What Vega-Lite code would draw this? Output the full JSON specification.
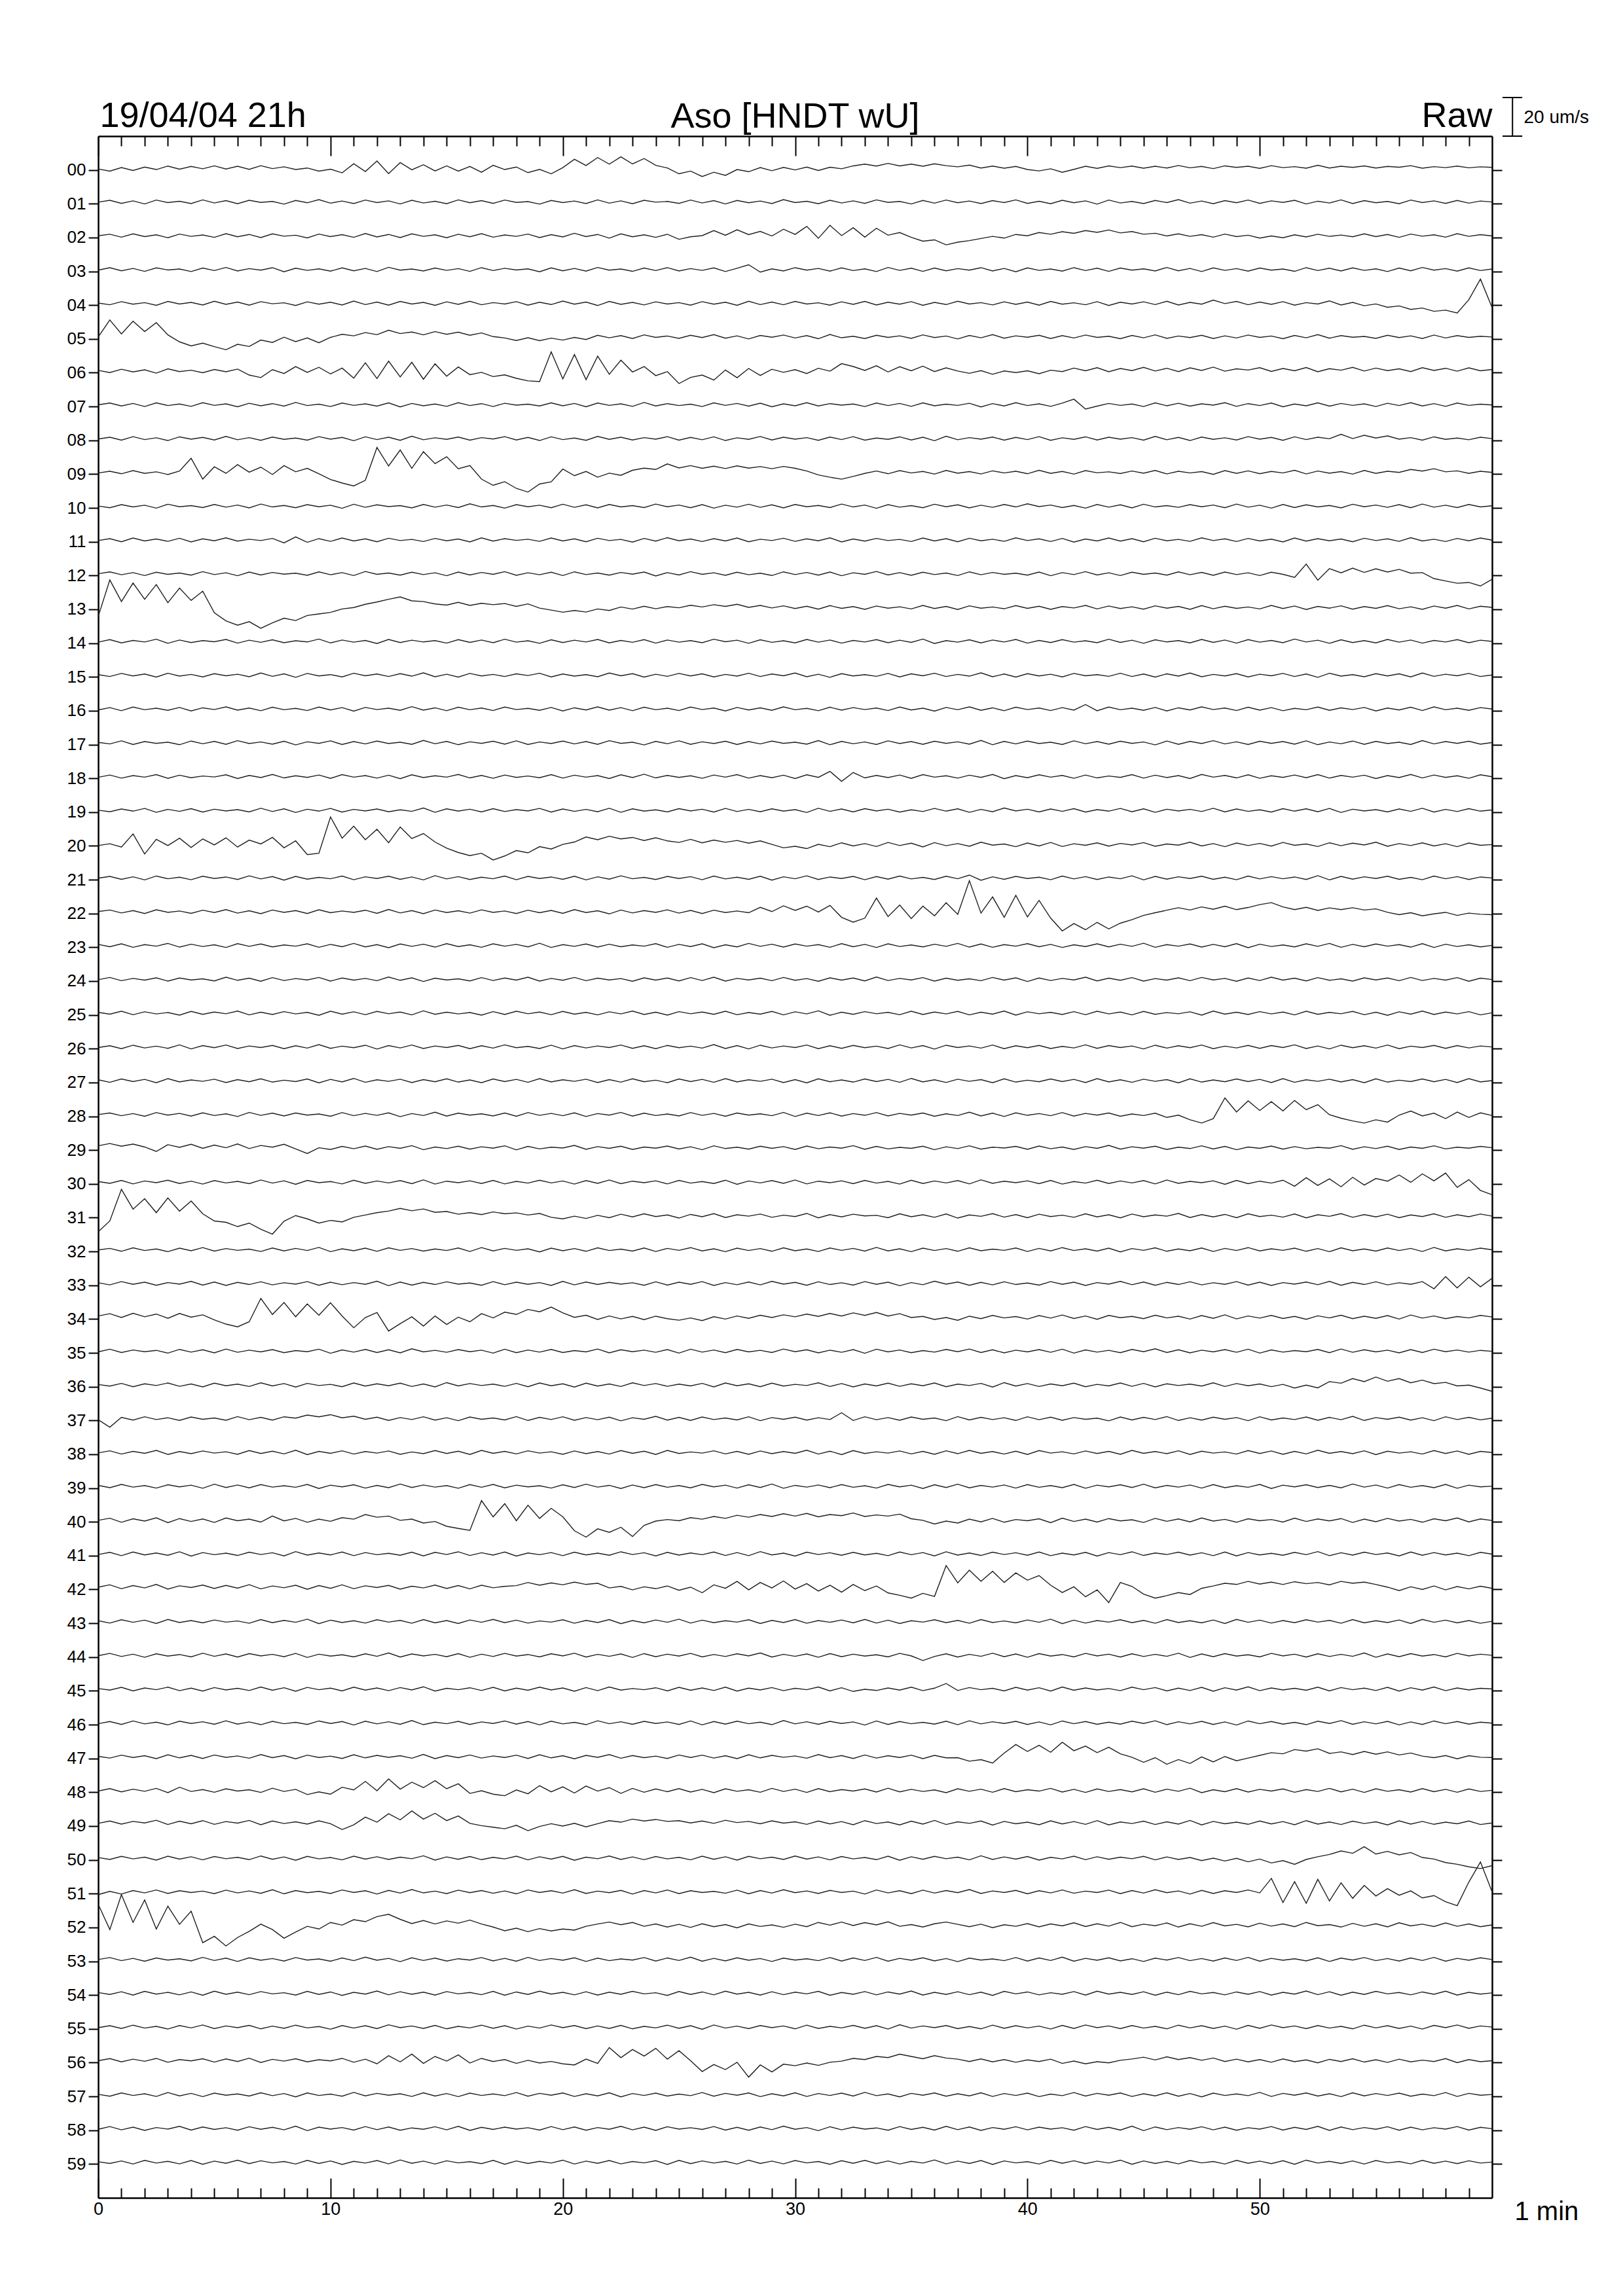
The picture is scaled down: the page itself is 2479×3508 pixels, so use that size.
{
"$schema":"https://vega.github.io/schema/vega-lite/v6.json",
"autosize":{"type":"none"},
"width":2129,"height":3150,
"padding":{"left":150,"top":208,"right":200,"bottom":150},
"background":"white",
"config":{"view":{"stroke":null},"font":"Liberation Sans"},
"title":{"text":"Aso [HNDT wU]","anchor":"middle","frame":"group","fontSize":54,"fontWeight":"normal","font":"Liberation Sans","color":"black","offset":0,"dy":104,"baseline":"alphabetic"},
"datasets":{
"helicorder":[{
"t":[0,0.5,1,1.5,2,2.5,3,3.5,4,4.5,5,5.5,6,6.5,7,7.5,8,8.5,9,9.5,10,10.5,11,11.5,12,12.5,13,13.5,14,14.5,15,15.5,16,16.5,17,17.5,18,18.5,19,19.5,20,20.5,21,21.5,22,22.5,23,23.5,24,24.5,25,25.5,26,26.5,27,27.5,28,28.5,29,29.5,30,30.5,31,31.5,32,32.5,33,33.5,34,34.5,35,35.5,36,36.5,37,37.5,38,38.5,39,39.5,40,40.5,41,41.5,42,42.5,43,43.5,44,44.5,45,45.5,46,46.5,47,47.5,48,48.5,49,49.5,50,50.5,51,51.5,52,52.5,53,53.5,54,54.5,55,55.5,56,56.5,57,57.5,58,58.5,59,59.5,60],
"00":[0.5,-0.6,1.2,-0.3,1.5,0.2,2.0,0.4,1.8,0.6,2.1,0.5,1.9,0.3,2.2,0.7,1.6,0.2,1.0,-0.6,0.4,-1.5,3.2,-0.8,4.6,-1.9,3.8,0.1,2.7,-0.5,2.1,-0.6,1.8,-1.2,2.4,0.2,1.5,-1.4,0.3,-2.0,1.2,5.5,2.3,6.4,3.0,6.8,3.1,5.9,2.4,1.0,-2.0,-0.6,-3.4,-1.2,-2.8,0.2,-0.9,1.2,-0.4,1.3,0.0,1.5,-0.3,1.4,0.6,2.1,3.0,2.0,3.4,2.1,3.0,1.9,3.2,2.2,1.6,2.5,1.0,2.0,0.9,1.8,0.2,-0.5,0.6,-1.2,0.3,1.9,0.8,2.1,1.2,2.0,0.9,1.9,1.0,2.3,1.1,1.8,0.7,2.1,1.3,1.9,0.8,2.2,1.2,1.7,0.9,2.4,1.0,1.9,1.3,2.1,1.0,1.8,1.4,2.2,0.9,1.7,1.2,2.0,1.1,1.6,1.3],
"01":[0.8,1.8,0.2,1.5,-0.1,1.9,0.6,1.3,0.1,2.0,0.4,1.6,0.0,1.8,0.7,1.2,-0.2,1.7,0.5,2.1,0.3,1.4,0.1,1.9,0.6,1.5,-0.1,1.8,0.4,1.3,0.0,2.0,0.5,1.6,0.2,1.9,0.7,1.1,-0.2,1.7,0.6,1.4,0.1,2.0,0.3,1.5,0.0,1.8,0.8,1.2,0.2,1.9,0.4,1.6,-0.1,1.7,0.5,1.4,0.1,2.1,0.6,1.3,0.0,1.8,0.4,1.5,0.2,2.0,0.7,1.2,-0.1,1.7,0.3,1.9,0.5,1.4,0.1,1.6,0.6,2.0,0.2,1.3,0.0,1.8,0.5,1.5,-0.2,1.9,0.4,1.2,0.1,1.7,0.6,2.1,0.3,1.4,0.0,1.6,0.5,1.9,0.2,1.5,0.7,1.8,-0.1,1.3,0.4,2.0,0.1,1.6,0.5,1.2,0.0,1.9,0.6,1.5,0.2,1.7,0.3,1.4,0.9],
"02":[0.9,1.7,0.2,1.9,0.5,1.4,-0.1,1.8,0.6,1.3,0.1,2.0,0.4,1.6,0.0,1.9,0.7,1.2,-0.2,1.8,0.5,1.5,0.1,2.1,0.3,1.6,0.0,1.9,0.6,1.4,-0.1,1.7,0.4,2.0,0.2,1.3,0.6,1.8,0.0,1.5,0.3,2.2,0.5,1.6,-0.3,1.9,0.4,1.4,0.1,1.7,-0.9,0.4,1.0,3.6,1.2,4.0,1.5,3.2,0.8,4.3,1.6,5.8,-0.4,6.3,1.0,5.1,0.2,4.8,1.2,2.6,0.1,-1.9,-1.2,-3.8,-2.4,-1.6,-0.5,0.6,-0.3,1.6,0.9,2.6,1.7,3.0,2.2,3.6,2.7,3.9,2.4,3.1,1.7,2.2,0.8,1.9,0.6,1.5,0.2,1.8,0.5,1.2,-0.3,0.8,-0.1,1.4,0.3,1.7,0.6,1.3,0.4,1.9,0.5,1.6,0.1,1.8,0.7,1.4,0.2,2.0,0.6,1.5,0.8],
"03":[0.6,1.9,0.3,1.5,0.0,1.8,0.7,1.2,-0.1,1.7,0.4,2.0,0.2,1.4,0.6,1.9,-0.2,1.6,0.5,1.3,0.1,1.8,0.3,1.5,-0.1,2.1,0.6,1.2,0.2,1.7,0.5,1.4,0.0,1.9,0.4,1.6,0.7,1.3,-0.2,1.8,0.3,1.5,0.1,2.0,0.6,1.2,0.0,1.7,0.4,1.9,0.2,1.4,0.5,1.8,-0.1,1.6,3.4,-0.4,1.3,0.2,1.9,0.6,1.5,0.1,1.8,0.4,1.3,-0.1,2.0,0.5,1.6,0.0,1.7,0.3,1.4,0.6,1.9,0.2,1.5,-0.2,1.8,0.5,1.2,0.1,1.9,0.4,1.6,0.0,1.7,0.6,1.3,0.2,2.0,0.3,1.5,-0.1,1.8,0.5,1.4,0.1,1.7,0.6,1.2,0.0,1.9,0.4,1.6,0.2,1.8,0.5,1.3,-0.1,1.7,0.3,2.0,0.6,1.4,0.1,1.8,0.4,1.2],
"04":[1.1,0.2,1.8,0.5,1.3,-0.1,1.9,0.6,1.4,0.1,2.0,0.4,1.6,0.0,1.8,0.7,1.2,-0.2,1.7,0.5,1.5,0.1,2.1,0.3,1.6,0.0,1.9,0.6,1.4,-0.1,1.7,0.4,2.0,0.2,1.3,0.6,1.8,0.0,1.5,0.3,2.1,0.5,1.6,-0.2,1.9,0.4,1.4,0.1,1.7,0.6,1.3,0.0,1.8,0.5,1.5,-0.1,2.0,0.3,1.6,0.2,1.9,0.6,1.2,0.0,1.7,0.4,1.9,0.1,1.5,0.5,1.8,-0.1,1.4,0.3,2.0,0.6,1.3,0.1,1.7,0.4,1.6,0.0,1.9,0.5,1.2,0.2,1.8,-0.2,1.5,0.6,1.7,0.3,2.0,0.1,1.4,0.5,2.6,0.8,1.9,0.2,1.6,0.4,1.8,0.0,1.3,0.6,2.2,0.1,1.4,-0.3,0.6,-1.1,-0.4,-2.2,-1.5,-3.2,-2.6,-4.1,2.8,13.5,-1.2],
"05":[1.0,9.8,2.6,9.2,3.8,8.4,2.1,-1.5,-3.6,-2.2,-4.0,-5.6,-2.8,-3.9,-0.6,-1.8,0.9,-1.4,0.5,-2.0,0.8,2.4,1.6,3.3,2.2,4.5,2.8,3.6,2.1,3.8,2.4,3.5,1.9,3.1,1.2,0.5,-0.8,0.6,-0.9,0.4,-0.6,0.8,-0.3,1.9,0.6,1.7,0.2,2.1,0.8,1.5,0.3,1.9,0.7,2.2,0.4,1.6,0.0,1.8,0.9,2.0,0.5,1.7,0.1,2.3,0.6,1.4,0.2,1.9,0.8,1.6,0.3,2.1,0.7,1.5,0.0,1.8,0.6,2.2,0.4,1.6,0.9,1.9,0.2,1.7,0.5,2.0,0.8,1.4,0.1,1.8,0.6,2.1,0.3,1.5,0.7,1.9,0.2,1.6,0.5,2.0,0.8,1.5,0.1,1.8,0.6,2.2,0.4,1.7,0.9,1.3,0.3,1.9,0.7,1.6,0.2,2.0,0.5,1.7,0.8,1.4,1.0],
"06":[1.2,0.1,1.8,0.4,1.5,-0.2,2.0,0.6,1.3,0.0,1.7,0.5,1.9,-1.2,-2.5,1.6,-0.4,3.2,0.2,2.8,-0.6,2.4,-2.8,5.1,-3.0,6.0,-2.2,5.4,-3.4,4.6,-1.8,3.0,-1.0,0.2,-2.0,-1.1,-2.9,-4.2,-4.6,10.8,-3.2,9.4,-3.6,8.6,-0.8,6.5,0.4,3.2,-1.5,0.6,-5.6,-2.4,-1.2,-3.8,1.4,-2.6,2.2,-1.4,1.8,0.2,1.6,-0.4,2.3,0.8,4.7,3.2,1.2,3.6,0.4,3.1,1.0,3.4,0.6,2.5,0.9,-0.3,1.1,-0.8,0.9,0.1,1.0,-0.5,1.3,0.6,2.4,1.0,2.6,0.5,2.2,1.1,2.8,0.9,2.3,0.6,2.5,1.2,2.9,0.8,2.0,1.4,2.6,0.7,2.2,1.0,2.7,0.5,2.1,1.3,2.8,0.9,2.4,1.1,2.0,0.6,2.6,1.2,2.3,0.8,2.5,1.0,1.7],
"07":[0.9,1.8,0.3,1.6,0.0,1.9,0.5,1.3,0.1,2.0,0.6,1.4,-0.1,1.7,0.4,1.5,0.2,2.1,0.5,1.2,0.0,1.8,0.6,1.4,0.2,1.9,-0.2,1.6,0.4,1.3,0.1,2.0,0.5,1.5,0.0,1.7,0.7,1.2,0.3,1.9,0.4,1.6,-0.1,1.8,0.6,1.4,0.1,2.1,0.3,1.5,0.5,1.2,0.0,1.9,0.6,1.6,0.2,1.7,-0.1,1.4,0.4,2.0,0.3,1.5,0.7,1.3,0.0,1.8,0.5,1.6,0.1,1.9,0.4,1.2,0.6,1.7,-0.2,1.5,0.3,2.0,0.5,1.4,0.1,1.8,3.8,-1.3,0.2,1.6,0.6,1.3,0.0,1.9,0.4,1.7,0.2,1.4,0.7,2.0,0.1,1.5,0.5,1.8,-0.1,1.3,0.4,1.9,0.2,1.6,0.6,1.4,0.0,1.7,0.5,2.0,0.3,1.5,0.1,1.8,0.6,1.2,0.8],
"08":[0.7,1.6,0.1,1.9,0.4,1.3,-0.1,1.8,0.6,1.5,0.2,2.0,0.3,1.4,0.0,1.7,0.5,1.2,0.1,1.9,0.6,1.5,-0.2,1.8,0.4,1.6,0.0,2.1,0.3,1.3,0.5,1.7,0.1,1.4,0.7,1.9,0.2,1.5,-0.1,1.8,0.4,1.2,0.0,2.0,0.5,1.6,0.2,1.4,0.6,1.9,0.1,1.5,0.3,1.8,-0.1,1.3,0.5,2.0,0.2,1.6,0.6,1.4,0.0,1.7,0.4,1.9,0.1,1.2,0.5,1.8,0.2,1.6,-0.2,2.1,0.3,1.4,0.6,1.7,0.1,1.5,0.4,1.9,0.0,1.3,0.5,1.8,0.2,1.6,0.6,1.4,0.1,2.0,0.3,1.5,-0.1,1.7,0.5,1.3,0.2,1.9,0.6,1.5,0.0,1.8,0.4,1.6,0.8,3.1,0.9,2.6,1.2,2.3,0.6,1.4,0.1,1.8,0.5,1.2,0.3,1.6,0.9],
"09":[0.6,1.5,0.2,1.8,0.4,1.2,-0.2,1.6,8.2,-2.6,3.8,0.4,4.9,1.0,3.6,-0.2,4.4,1.2,3.0,0.2,-2.8,-4.6,-6.1,-3.2,13.8,4.2,12.5,3.0,11.6,5.4,9.0,2.8,4.4,-2.6,-5.8,-3.9,-7.4,-9.3,-5.1,-4.0,2.6,-0.8,1.4,-1.6,0.5,-0.6,2.0,3.1,2.4,5.3,3.2,4.4,3.0,4.1,2.9,4.3,3.1,3.9,2.8,4.0,3.0,1.6,-0.4,-1.6,-2.6,-1.2,0.4,1.6,0.2,1.8,0.6,1.4,0.0,1.9,0.5,1.3,0.1,1.7,0.6,1.5,0.2,2.0,0.4,1.4,0.0,1.8,0.7,1.2,0.3,1.6,0.5,1.9,0.1,1.5,0.6,1.3,-0.1,1.8,0.4,1.7,0.2,1.4,0.6,2.0,0.1,1.6,0.5,1.3,0.0,1.9,0.4,1.5,0.9,2.4,1.6,2.8,1.2,1.7,0.4,1.5,0.9],
"10":[1.0,0.1,1.7,0.5,1.4,-0.1,1.9,0.6,1.2,0.2,1.8,0.4,1.5,0.0,2.0,0.5,1.3,0.1,1.7,0.6,1.4,-0.2,1.9,0.3,1.6,0.7,1.2,0.0,1.8,0.4,1.5,0.2,2.1,0.5,1.3,-0.1,1.7,0.6,1.4,0.1,1.9,0.3,1.6,0.0,1.8,0.5,1.2,0.2,2.0,0.6,1.5,0.1,1.7,-0.1,1.4,0.4,1.9,0.3,1.6,0.0,1.8,0.6,1.3,0.2,2.0,0.5,1.5,-0.2,1.7,0.4,1.2,0.1,1.9,0.6,1.6,0.0,1.4,0.3,1.8,0.5,2.1,0.7,1.5,0.2,1.3,-0.1,1.8,0.4,1.6,0.0,1.9,0.5,1.2,0.3,1.7,0.6,1.5,0.1,2.0,0.4,1.4,-0.1,1.8,0.2,1.6,0.5,1.3,0.0,1.9,0.6,1.5,0.3,1.7,0.1,2.0,0.4,1.4,0.2,1.8,0.5,1.1],
"11":[0.6,1.6,0.0,1.9,0.4,1.4,0.2,1.8,-0.1,1.5,0.5,2.0,0.3,1.3,0.6,1.7,-0.6,2.5,-0.3,1.6,0.2,1.9,0.4,1.5,0.0,1.8,0.6,1.2,0.1,1.7,0.5,1.4,-0.1,2.0,0.3,1.6,0.7,1.3,0.2,1.9,0.4,1.5,0.0,1.8,0.6,1.2,-0.2,1.7,0.3,2.1,0.5,1.4,0.1,1.6,0.4,1.9,0.0,1.3,0.6,1.8,0.2,1.5,0.5,2.0,-0.1,1.4,0.3,1.7,0.6,1.2,0.1,1.9,0.4,1.6,0.0,1.8,0.5,1.3,0.2,2.0,0.6,1.5,0.1,1.7,-0.2,1.4,0.4,1.9,0.3,1.6,0.0,1.8,0.5,1.2,0.2,2.0,0.6,1.5,0.1,1.7,0.4,1.3,-0.1,1.9,0.3,1.6,0.5,1.4,0.0,1.8,0.6,1.5,0.2,2.1,0.4,1.3,0.1,1.7,0.5,1.9,0.8],
"12":[0.9,1.9,0.4,1.5,0.0,1.7,0.6,1.3,0.2,2.0,0.5,1.4,-0.1,1.8,0.3,1.6,0.7,1.2,0.1,1.9,0.4,1.5,0.0,2.1,0.6,1.3,0.2,1.7,0.5,1.4,-0.1,1.8,0.3,1.6,0.6,2.0,0.1,1.4,0.4,1.7,0.0,1.9,0.5,1.3,0.2,1.6,0.7,1.8,-0.2,1.5,0.3,2.0,0.6,1.4,0.1,1.7,0.4,1.2,0.0,1.9,0.5,1.6,0.2,1.8,-0.1,1.4,0.6,2.1,0.3,1.5,0.1,1.7,0.5,1.3,0.0,1.9,0.4,1.6,0.6,1.2,0.2,1.8,-0.1,1.5,0.5,2.0,0.3,1.4,0.0,1.7,0.6,1.3,0.2,1.9,0.4,1.6,0.1,1.8,0.5,1.4,0.0,1.7,0.6,-1.0,5.9,-2.4,3.6,1.4,3.8,1.6,3.5,1.8,3.2,1.2,1.5,-1.6,-2.8,-4.0,-3.6,-5.4,-2.0],
"13":[-3.7,15.2,4.0,13.6,5.2,12.8,3.4,11.0,4.6,9.4,-1.8,-6.0,-8.2,-6.4,-9.8,-7.0,-4.6,-5.8,-3.2,-2.4,-1.6,0.2,0.9,2.6,3.8,5.2,6.4,4.4,4.0,2.8,2.2,3.6,2.0,3.1,2.4,3.0,1.5,2.8,0.6,-0.4,-1.5,-0.6,-1.4,0.2,-0.6,1.2,0.1,1.6,0.3,1.4,0.8,2.1,1.2,2.4,1.5,2.6,1.0,2.0,0.7,1.8,0.4,1.6,0.1,1.9,0.5,1.4,0.0,1.7,0.6,1.3,0.2,2.0,0.4,1.5,-0.1,1.8,0.6,1.2,0.3,1.9,0.5,1.6,0.0,1.4,0.7,2.0,0.2,1.7,0.4,1.3,0.1,1.8,0.6,1.5,0.0,1.9,0.3,1.6,0.5,1.2,0.2,2.0,0.4,1.7,-0.1,1.5,0.6,1.8,0.1,1.4,0.5,1.9,0.3,1.3,0.0,1.7,0.6,2.0,0.2,1.6,1.0],
"14":[0.5,1.8,0.1,1.4,0.6,2.0,-0.1,1.6,0.3,1.3,0.7,1.9,0.0,1.5,0.4,1.7,0.2,1.2,0.6,2.1,0.1,1.6,0.5,1.4,-0.2,1.9,0.3,1.5,0.6,1.3,0.0,1.8,0.4,1.6,0.2,2.0,0.5,1.2,-0.1,1.7,0.3,1.5,0.6,1.9,0.1,1.4,0.4,1.8,0.0,1.6,0.5,1.3,0.2,2.0,0.7,1.5,-0.1,1.7,0.4,1.2,0.1,1.9,0.5,1.6,0.0,1.4,0.6,1.8,0.2,1.5,0.4,2.1,-0.2,1.3,0.5,1.7,0.1,1.6,0.6,1.9,0.0,1.4,0.3,1.8,0.5,1.2,0.2,2.0,0.4,1.5,-0.1,1.7,0.6,1.3,0.1,1.9,0.4,1.6,0.0,1.8,0.5,1.4,0.2,2.1,0.6,1.5,-0.1,1.7,0.3,1.3,0.1,1.9,0.5,1.6,0.0,1.4,0.6,1.8,0.2,1.5,0.9],
"15":[1.2,0.2,1.8,0.5,1.5,-0.1,1.9,0.4,1.3,0.0,1.7,0.6,1.4,0.1,2.0,0.3,1.6,-0.2,1.8,0.5,1.2,0.0,1.9,0.6,1.5,0.2,1.7,0.4,2.1,0.1,1.4,-0.1,1.8,0.5,1.3,0.2,1.6,0.7,1.9,0.0,1.5,0.4,1.2,0.1,2.0,0.6,1.7,-0.1,1.4,0.3,1.8,0.5,1.6,0.0,1.3,0.4,1.9,0.2,1.5,0.6,2.0,0.1,1.4,-0.2,1.7,0.5,1.2,0.3,1.8,0.0,1.6,0.6,1.9,0.2,1.3,0.4,2.1,0.1,1.5,-0.1,1.7,0.5,1.4,0.0,1.8,0.6,1.2,0.3,1.9,0.2,1.5,-0.1,1.6,0.4,2.0,0.1,1.3,0.5,1.7,0.0,1.4,0.6,1.8,0.2,1.5,-0.2,1.9,0.4,1.2,0.1,1.7,0.5,1.6,0.0,2.0,0.3,1.4,0.6,1.8,0.2,1.0],
"16":[0.4,1.6,0.0,1.9,0.5,1.3,0.2,1.7,-0.1,1.5,0.6,2.0,0.3,1.4,0.0,1.8,0.5,1.2,0.1,1.9,0.4,1.6,-0.2,1.7,0.6,1.3,0.2,2.1,0.3,1.5,0.0,1.8,0.5,1.4,0.1,1.9,0.6,1.2,0.2,1.7,-0.1,1.5,0.4,2.0,0.3,1.6,0.0,1.8,0.5,1.3,0.1,1.9,0.6,1.4,-0.1,1.7,0.4,1.5,0.2,2.0,0.5,1.2,0.0,1.8,0.3,1.6,0.6,1.4,0.1,1.9,0.4,1.3,-0.2,1.7,0.5,2.0,0.2,1.5,0.0,1.8,0.6,1.4,0.1,1.6,0.3,3.2,0.0,1.9,0.5,1.3,0.2,1.7,-0.1,1.5,0.4,2.0,0.6,1.4,0.1,1.8,0.3,1.6,0.0,1.2,0.5,1.9,0.2,1.5,0.6,1.7,-0.1,1.4,0.4,1.8,0.1,2.0,0.5,1.3,0.2,1.6,0.9],
"17":[1.1,0.3,1.9,0.0,1.5,0.6,1.2,-0.1,1.8,0.4,1.6,0.1,2.0,0.5,1.3,0.2,1.7,-0.2,1.4,0.6,1.9,0.0,1.5,0.3,1.8,0.5,1.2,0.1,2.1,0.4,1.6,-0.1,1.4,0.6,1.7,0.2,1.9,0.0,1.3,0.5,1.8,0.3,1.5,0.1,2.0,0.6,1.2,-0.2,1.6,0.4,1.9,0.1,1.4,0.5,1.7,0.0,1.5,0.3,1.8,0.6,1.2,0.2,2.0,-0.1,1.6,0.4,1.3,0.0,1.9,0.5,1.5,0.1,1.7,0.6,1.4,0.2,2.1,-0.1,1.6,0.3,1.8,0.5,1.2,0.0,1.9,0.4,1.5,0.2,1.7,0.6,1.3,-0.2,1.8,0.1,1.6,0.5,2.0,0.3,1.4,0.0,1.7,0.6,1.5,0.2,1.9,-0.1,1.3,0.4,1.8,0.1,1.6,0.5,1.2,0.0,2.0,0.3,1.5,0.6,1.7,0.2,1.0],
"18":[0.5,1.7,0.1,1.4,0.6,1.9,0.0,1.6,0.3,1.2,0.7,1.8,-0.1,1.5,0.4,2.0,0.2,1.3,0.5,1.7,0.0,1.9,0.6,1.4,0.1,1.6,-0.2,1.8,0.4,1.3,0.6,2.0,0.2,1.5,0.0,1.7,0.5,1.2,0.3,1.9,0.1,1.6,0.6,1.4,-0.1,1.8,0.4,2.1,0.2,1.5,0.5,1.3,0.0,1.7,0.6,1.9,0.1,1.4,0.3,1.6,-0.1,1.8,0.5,3.6,-1.6,3.0,0.2,1.5,0.4,1.7,0.0,1.9,0.6,1.3,0.1,1.6,0.5,2.0,-0.2,1.4,0.3,1.8,0.6,1.5,0.0,1.7,0.2,1.2,0.5,1.9,0.1,1.6,0.4,1.4,-0.1,2.0,0.6,1.5,0.2,1.8,0.0,1.3,0.5,1.7,0.3,1.9,0.1,1.5,0.6,1.6,-0.1,1.4,0.4,2.0,0.2,1.7,0.5,1.3,0.0,1.8,0.8],
"19":[1.0,0.2,1.6,0.5,1.9,-0.1,1.4,0.4,1.8,0.0,1.5,0.6,1.3,0.1,2.0,0.3,1.7,-0.2,1.5,0.5,1.9,0.0,1.4,0.6,1.6,0.2,1.2,0.4,2.1,-0.1,1.7,0.5,1.5,0.1,1.8,0.3,1.3,0.6,1.9,0.0,1.6,0.4,1.4,0.2,2.0,-0.1,1.7,0.5,1.2,0.1,1.8,0.6,1.5,0.0,1.9,0.3,1.4,0.2,1.7,0.5,1.3,-0.2,2.0,0.4,1.6,0.1,1.8,0.6,1.5,0.0,1.2,0.3,1.9,0.5,1.7,-0.1,1.4,0.2,2.1,0.6,1.5,0.1,1.6,0.4,1.8,0.0,1.3,0.5,1.9,0.2,1.7,-0.1,1.5,0.6,1.4,0.3,2.0,0.1,1.6,0.4,1.2,0.0,1.8,0.5,1.7,0.2,1.9,-0.2,1.5,0.6,1.3,0.1,1.6,0.4,2.0,0.0,1.4,0.3,1.8,0.5,1.1],
"20":[0.2,1.1,-0.6,6.2,-4.2,3.4,0.2,4.0,-0.8,3.6,0.5,4.2,-0.6,3.0,1.0,4.4,-1.0,2.6,-4.5,-3.8,15.0,4.0,10.2,3.2,8.6,1.6,9.8,3.8,6.4,2.0,-1.2,-3.4,-5.0,-3.8,-7.3,-5.2,-2.4,-3.6,-0.4,-1.6,0.8,2.0,4.6,3.2,5.0,3.6,4.4,2.8,4.2,2.6,1.8,3.4,1.6,3.0,1.9,2.8,1.4,2.6,0.8,-1.0,-0.2,-1.4,0.8,-0.4,1.6,0.0,1.2,-0.3,1.8,0.2,1.4,-0.5,1.7,0.1,1.2,-0.2,1.9,0.4,1.0,-0.4,1.5,0.0,1.8,-0.3,1.1,0.3,1.6,-0.1,1.3,0.5,1.7,-0.2,1.0,0.4,1.9,0.0,1.2,-0.4,1.5,0.2,1.3,-0.1,1.8,0.3,1.0,-0.3,1.6,0.1,1.4,0.5,1.9,-0.2,1.2,0.2,1.6,0.0,1.1,-0.4,1.5,0.3,0.7],
"21":[0.8,1.7,0.2,1.5,-0.1,1.9,0.5,1.3,0.0,1.8,0.6,1.4,0.1,2.0,0.4,1.6,-0.2,1.7,0.3,1.2,0.5,1.9,0.0,1.5,0.6,1.8,0.2,1.4,-0.1,2.1,0.4,1.6,0.1,1.3,0.5,1.9,0.0,1.7,0.6,1.4,0.2,1.8,-0.1,1.5,0.3,2.0,0.5,1.2,0.1,1.7,0.6,1.6,0.0,1.9,0.4,1.3,0.2,1.8,-0.2,1.5,0.5,2.0,0.1,1.4,0.6,1.7,0.0,1.6,0.3,1.9,0.4,1.2,0.1,1.8,0.5,2.4,-0.3,1.5,0.2,1.7,0.6,1.3,0.0,1.9,0.4,1.6,0.1,1.4,0.5,2.0,-0.1,1.7,0.3,1.5,0.6,1.8,0.2,1.3,0.0,1.9,0.4,1.6,0.5,1.4,0.1,2.1,-0.1,1.7,0.3,1.5,0.6,1.8,0.2,1.2,0.0,1.9,0.5,1.6,0.1,1.4,0.9],
"22":[1.0,1.8,0.3,1.5,0.0,1.9,0.6,1.3,0.1,1.7,0.5,2.0,0.2,1.4,-0.1,1.8,0.6,1.5,0.0,1.9,0.4,1.3,0.6,1.7,0.1,2.1,0.3,1.5,-0.1,1.8,0.5,1.4,0.2,1.9,0.6,1.3,0.0,1.7,0.4,1.6,0.1,2.0,0.5,1.4,-0.2,1.8,0.3,1.5,0.6,1.9,0.2,1.6,0.0,1.7,0.5,1.3,0.4,3.2,1.0,4.0,1.6,3.8,0.8,4.2,-2.0,-4.5,-2.4,8.0,-1.6,4.4,-2.6,3.8,-1.2,5.6,-0.4,17.0,0.2,8.6,-2.0,9.4,-1.8,6.8,-2.4,-9.0,-5.2,-8.4,-4.6,-8.0,-5.0,-3.2,-1.0,0.4,1.7,3.0,1.8,3.4,2.2,3.8,2.0,3.1,4.6,5.6,3.4,2.0,3.2,1.6,2.9,2.0,3.0,1.8,2.4,0.6,-0.6,0.4,-1.2,-0.2,0.6,-1.0,0.2,-0.4,-0.6],
"23":[1.5,0.3,1.8,0.0,1.4,0.6,2.0,0.1,1.6,0.4,1.3,-0.1,1.9,0.5,1.7,0.2,1.2,0.6,1.8,0.0,1.5,0.3,2.0,0.2,1.4,-0.2,1.7,0.5,1.6,0.1,1.9,0.4,1.3,0.0,1.8,0.6,1.5,0.2,2.1,-0.1,1.4,0.5,1.7,0.1,1.6,0.3,1.2,0.6,1.9,0.0,1.5,0.4,1.8,-0.2,1.3,0.2,2.0,0.5,1.6,0.1,1.7,0.6,1.4,0.0,1.9,0.3,1.5,-0.1,1.8,0.4,1.2,0.2,1.6,0.5,2.0,0.1,1.7,0.0,1.4,0.6,1.9,0.3,1.5,-0.1,1.3,0.4,1.8,0.2,1.6,0.5,2.1,0.0,1.4,0.6,1.7,0.1,1.5,0.3,1.9,-0.2,1.6,0.4,1.2,0.2,1.8,0.5,2.0,0.0,1.5,0.3,1.7,0.6,1.4,0.1,1.9,-0.1,1.6,0.4,1.3,0.2,1.0],
"24":[0.7,1.9,0.2,1.4,0.5,1.7,0.0,1.6,0.6,1.2,0.1,2.0,0.4,1.5,-0.1,1.8,0.3,1.3,0.6,1.9,0.0,1.6,0.5,1.4,0.2,2.1,0.4,1.7,-0.2,1.5,0.6,1.2,0.1,1.8,0.3,1.6,0.5,2.0,0.0,1.4,0.4,1.9,0.2,1.5,0.6,1.3,-0.1,1.7,0.5,1.6,0.1,1.8,0.3,2.0,0.0,1.4,0.6,1.5,0.2,1.9,0.4,1.3,-0.1,1.7,0.5,1.6,0.1,2.1,0.3,1.4,0.6,1.8,0.0,1.5,0.4,1.2,0.2,1.9,0.5,1.7,-0.2,1.6,0.3,1.4,0.6,2.0,0.1,1.5,0.4,1.8,0.0,1.3,0.5,1.7,0.2,1.9,0.6,1.4,-0.1,1.6,0.3,2.0,0.5,1.5,0.1,1.8,0.4,1.2,0.0,1.7,0.6,1.6,0.2,1.9,0.3,1.4,0.5,1.8,-0.1,1.5,0.8],
"25":[1.3,0.4,1.9,0.1,1.6,0.5,1.2,-0.1,1.8,0.3,1.5,0.6,2.0,0.0,1.4,0.2,1.7,0.5,1.3,-0.2,1.9,0.4,1.6,0.1,1.8,0.6,1.5,0.0,2.1,0.3,1.4,0.5,1.2,-0.1,1.7,0.2,1.9,0.6,1.5,0.1,1.8,0.4,1.3,0.0,1.6,0.5,2.0,0.2,1.4,-0.1,1.7,0.6,1.5,0.3,1.9,0.1,1.2,0.4,1.8,0.0,1.6,0.5,2.1,-0.2,1.4,0.3,1.7,0.6,1.3,0.1,1.9,0.2,1.5,0.5,1.8,0.0,1.4,0.4,2.0,-0.1,1.6,0.6,1.3,0.2,1.7,0.1,1.9,0.5,1.5,0.0,1.8,0.3,1.2,0.6,1.6,-0.1,2.0,0.4,1.4,0.2,1.7,0.5,1.5,0.0,1.9,0.3,1.3,0.6,1.8,0.1,1.4,-0.2,1.6,0.4,2.0,0.2,1.5,0.5,1.7,0.0,1.1],
"26":[0.6,1.5,0.0,1.8,0.4,1.3,0.2,2.0,-0.1,1.6,0.5,1.9,0.1,1.4,0.6,1.7,0.0,1.5,0.3,2.1,0.2,1.3,0.5,1.8,-0.2,1.6,0.4,1.9,0.1,1.4,0.6,1.7,0.0,1.5,0.3,2.0,0.5,1.2,0.1,1.8,-0.1,1.6,0.4,1.4,0.6,1.9,0.2,1.5,0.0,1.7,0.5,1.3,0.3,2.1,0.1,1.6,-0.1,1.8,0.4,1.4,0.6,1.9,0.0,1.5,0.2,1.7,0.5,1.3,0.1,2.0,0.4,1.6,-0.2,1.8,0.6,1.4,0.3,1.9,0.0,1.5,0.5,1.7,0.1,1.2,0.4,2.0,0.2,1.6,0.6,1.4,-0.1,1.8,0.3,1.5,0.5,1.9,0.0,1.3,0.4,1.7,0.2,1.6,0.6,2.0,0.1,1.4,-0.1,1.8,0.5,1.5,0.3,1.9,0.0,1.3,0.6,1.7,0.2,1.6,0.4,1.4,0.9],
"27":[1.4,0.1,1.8,0.5,1.6,-0.1,2.0,0.3,1.3,0.6,1.7,0.0,1.5,0.4,1.9,0.2,1.2,0.5,1.8,-0.2,1.6,0.3,2.1,0.1,1.4,0.6,1.7,0.0,1.5,0.4,1.9,0.2,1.3,-0.1,1.8,0.5,1.6,0.1,2.0,0.3,1.4,0.6,1.7,0.0,1.5,0.2,1.9,0.4,1.2,-0.1,1.8,0.5,1.6,0.1,2.0,0.3,1.4,0.6,1.7,0.0,1.5,-0.2,1.9,0.4,1.3,0.2,1.8,0.5,1.6,0.1,2.1,0.3,1.4,0.0,1.7,0.6,1.5,-0.1,1.9,0.2,1.2,0.4,1.8,0.5,1.6,0.0,2.0,0.3,1.4,0.1,1.7,0.6,1.5,-0.2,1.9,0.2,1.3,0.4,1.8,0.5,1.6,0.0,2.0,0.1,1.4,0.6,1.7,0.3,1.5,-0.1,1.9,0.2,1.2,0.5,1.8,0.4,1.6,0.0,2.0,0.3,1.0],
"28":[0.9,1.7,0.3,1.4,0.0,1.9,0.6,1.5,0.1,1.8,0.4,1.3,-0.1,2.0,0.5,1.6,0.2,1.7,0.6,1.2,0.0,1.9,0.3,1.5,0.5,1.8,-0.2,1.4,0.4,2.1,0.1,1.6,0.6,1.3,0.2,1.7,0.0,1.9,0.5,1.5,0.3,1.8,-0.1,1.4,0.6,2.0,0.1,1.6,0.4,1.2,0.2,1.9,0.5,1.5,0.0,1.7,0.6,1.3,0.3,2.0,-0.1,1.6,0.4,1.8,0.1,1.4,0.5,1.9,0.2,1.5,0.6,1.7,0.0,1.3,0.4,2.1,0.2,1.6,-0.1,1.8,0.5,1.4,0.3,1.9,0.1,1.5,0.6,1.7,0.0,1.2,0.4,1.6,-0.6,0.6,-1.8,-3.5,-1.2,9.5,2.2,8.0,3.0,7.6,2.8,8.2,3.4,6.0,0.8,-1.0,-2.4,-3.5,-1.8,-3.0,0.6,2.7,0.2,1.6,-1.2,2.2,-0.6,1.8,0.4],
"29":[2.2,3.4,2.0,3.1,1.6,-0.7,2.8,1.4,3.0,0.9,2.6,1.2,3.2,0.8,2.4,1.5,3.0,0.6,-1.8,1.2,0.3,1.9,0.7,2.1,0.4,1.8,0.9,2.3,0.2,1.6,0.8,2.0,0.5,1.7,1.0,2.2,0.1,1.9,0.6,1.5,1.1,2.4,0.4,1.8,0.9,2.0,0.3,1.6,1.0,2.1,0.6,1.7,0.2,2.2,0.8,1.5,0.5,2.0,0.9,1.8,0.3,2.1,0.7,1.6,1.0,2.3,0.4,1.9,0.6,1.4,0.9,2.0,0.2,1.7,0.8,2.2,0.5,1.5,1.1,1.9,0.4,2.1,0.7,1.6,0.3,1.8,0.9,2.4,0.5,1.7,1.0,2.0,0.3,1.5,0.8,2.2,0.6,1.9,0.2,1.6,0.9,2.1,0.5,1.8,0.7,1.4,1.0,2.3,0.4,1.7,0.8,2.0,0.3,1.6,0.9,2.2,0.6,1.5,1.0,1.9,1.2],
"30":[1.2,0.3,1.8,0.0,1.5,0.6,1.9,0.2,1.4,-0.1,1.7,0.5,1.3,0.1,2.0,0.4,1.6,-0.2,1.8,0.6,1.2,0.0,1.9,0.3,1.5,0.5,1.7,0.1,2.1,-0.1,1.4,0.6,1.6,0.2,1.8,0.0,1.3,0.4,1.9,0.5,1.5,-0.1,1.7,0.3,2.0,0.1,1.4,0.6,1.6,0.0,1.8,0.4,1.2,0.2,1.9,-0.2,1.5,0.5,1.7,0.3,2.0,0.0,1.4,0.6,1.6,0.1,1.8,0.4,1.3,-0.1,1.9,0.2,1.5,0.5,1.7,0.0,2.1,0.3,1.4,0.6,1.6,0.1,1.8,-0.1,1.2,0.4,1.9,0.2,1.5,0.5,1.7,0.0,2.0,0.3,1.3,0.6,1.6,-0.2,1.8,0.1,1.4,0.4,1.9,-1.2,3.2,-0.8,2.6,-1.5,3.4,-0.6,2.8,1.4,4.6,0.8,5.2,1.6,5.6,-1.8,2.2,-3.4,-5.6],
"31":[-7.3,-1.7,14.7,4.4,9.8,2.6,10.2,3.4,8.6,2.0,-1.7,-2.4,-4.6,-2.8,-6.0,-8.5,-1.8,1.1,-0.6,-2.8,-1.4,-2.2,0.2,1.4,2.6,3.4,4.8,3.6,4.5,2.8,3.2,1.8,2.6,1.6,3.0,2.0,2.5,1.4,2.2,0.2,-0.6,0.8,-0.4,1.2,0.0,1.8,0.4,2.0,0.6,1.4,-0.2,1.7,0.5,2.1,0.1,1.5,0.8,1.9,0.2,1.3,0.6,2.2,-0.1,1.6,0.4,1.8,0.9,1.2,0.0,2.0,0.5,1.5,0.2,1.9,-0.2,1.4,0.7,2.1,0.3,1.6,0.0,1.8,0.6,1.3,0.2,2.0,0.4,1.5,-0.1,1.9,0.5,1.4,0.8,2.2,0.1,1.6,0.4,1.7,0.0,2.0,0.6,1.3,0.3,1.9,-0.1,1.5,0.7,2.1,0.2,1.6,0.4,1.8,0.0,1.4,0.6,2.0,0.2,1.5,0.5,1.9,0.8],
"32":[0.8,1.6,0.1,1.9,0.5,1.3,-0.1,1.7,0.4,2.0,0.2,1.5,0.6,1.2,0.0,1.8,0.3,1.6,0.5,2.1,-0.1,1.4,0.4,1.7,0.1,1.9,0.6,1.5,0.2,1.3,0.5,1.8,0.0,2.0,0.3,1.6,0.6,1.4,-0.2,1.7,0.4,1.5,0.1,1.9,0.5,1.2,0.2,1.8,0.0,1.6,0.6,2.0,0.3,1.4,-0.1,1.7,0.5,1.5,0.1,1.9,0.4,1.3,0.0,1.8,0.6,1.6,0.2,2.1,0.3,1.4,-0.1,1.7,0.5,1.5,0.1,1.9,0.4,1.2,0.6,1.8,0.0,1.6,0.3,2.0,0.5,1.4,0.2,1.7,-0.2,1.5,0.6,1.9,0.1,1.3,0.4,1.8,0.0,1.6,0.5,2.0,0.3,1.4,0.6,1.7,0.1,1.5,-0.1,1.9,0.4,1.3,0.2,1.8,0.5,1.6,0.0,2.1,0.3,1.4,0.6,1.7,0.9],
"33":[1.3,0.2,1.9,0.5,1.6,0.0,1.4,0.6,2.0,0.1,1.7,-0.1,1.5,0.4,1.8,0.2,1.3,0.6,1.9,0.0,1.6,0.3,1.4,0.5,2.1,-0.2,1.7,0.1,1.5,0.4,1.8,0.6,1.2,0.0,1.9,0.3,1.6,0.5,1.4,-0.1,2.0,0.2,1.7,0.4,1.5,0.6,1.3,0.0,1.8,0.1,1.6,0.5,1.9,-0.1,1.4,0.3,1.7,0.2,2.0,0.6,1.5,0.0,1.8,0.4,1.3,0.1,1.9,0.5,1.6,-0.2,1.4,0.3,2.1,0.6,1.7,0.0,1.5,0.2,1.8,0.4,1.2,0.1,1.9,0.5,1.6,-0.1,1.4,0.6,2.0,0.3,1.7,0.0,1.5,0.4,1.8,0.2,1.3,0.5,1.9,0.1,1.6,-0.1,1.4,0.6,1.7,0.3,2.0,0.0,1.5,0.4,1.8,0.2,1.3,0.5,1.9,-1.8,4.5,-1.4,4.2,-0.8,3.6],
"34":[1.6,2.8,0.8,3.0,1.2,2.6,0.4,2.9,1.0,2.2,-0.4,-2.6,-4.0,-1.4,10.7,2.4,8.6,1.2,7.8,2.0,8.4,1.6,-4.5,0.8,3.4,-6.2,-2.4,1.2,-3.6,1.6,-2.8,1.0,-1.4,2.8,0.6,3.6,2.4,5.0,3.8,6.2,3.2,0.9,2.0,-0.2,1.6,0.1,1.4,-0.3,1.5,0.2,-0.6,0.6,-0.8,1.2,0.0,1.6,0.4,2.0,0.8,2.2,1.2,2.6,1.4,2.9,1.6,3.2,1.9,3.4,1.6,2.8,0.8,1.4,-0.2,0.8,-0.6,1.5,0.2,1.9,0.6,1.3,0.0,1.8,0.5,2.1,0.3,1.6,-0.1,1.9,0.7,1.4,0.2,2.0,0.6,1.5,0.0,1.8,0.4,2.2,0.1,1.6,0.5,1.9,0.3,1.4,-0.1,1.7,0.6,2.0,0.2,1.5,0.4,1.8,0.0,2.1,0.5,1.6,0.2,1.3,0.6,1.9,1.1],
"35":[0.5,1.9,0.2,1.5,0.6,1.3,-0.1,1.8,0.4,1.6,0.0,2.0,0.3,1.4,0.5,1.7,0.1,1.2,0.6,1.9,-0.2,1.5,0.4,1.8,0.2,1.6,0.0,2.1,0.5,1.3,0.3,1.7,0.6,1.4,-0.1,1.9,0.1,1.5,0.4,1.8,0.2,1.2,0.5,2.0,0.0,1.6,0.6,1.4,0.3,1.7,-0.1,1.9,0.4,1.5,0.1,1.8,0.5,1.3,0.2,2.0,0.6,1.6,0.0,1.4,0.3,1.7,-0.2,1.9,0.5,1.5,0.1,1.2,0.4,1.8,0.6,2.0,0.2,1.6,0.0,1.4,0.5,1.7,0.3,1.9,-0.1,1.5,0.4,1.3,0.1,1.8,0.6,2.1,0.2,1.6,0.0,1.4,0.5,1.7,0.3,1.9,-0.1,1.5,0.4,1.2,0.6,1.8,0.1,2.0,0.3,1.6,0.5,1.4,0.0,1.7,0.2,1.9,0.6,1.5,0.4,1.3,0.8],
"36":[1.1,0.3,1.7,0.0,1.5,0.6,1.9,0.2,1.4,-0.1,1.8,0.5,1.3,0.1,2.0,0.4,1.6,-0.2,1.7,0.6,1.2,0.0,1.9,0.3,1.5,0.5,1.8,0.1,1.4,-0.1,2.1,0.4,1.6,0.6,1.3,0.2,1.7,0.0,1.9,0.5,1.5,-0.2,1.8,0.3,1.4,0.1,2.0,0.6,1.6,0.2,1.3,0.4,1.7,-0.1,1.9,0.5,1.5,0.0,1.8,0.3,1.2,0.6,2.0,0.1,1.6,-0.1,1.4,0.4,1.8,0.2,1.5,0.5,1.9,0.0,1.3,0.6,1.7,-0.2,2.1,0.3,1.6,0.1,1.4,0.5,1.8,0.0,1.2,0.4,1.9,0.2,1.7,-0.1,1.5,0.6,1.3,0.3,2.0,0.1,1.6,0.5,1.4,0.0,1.2,-0.7,0.8,-0.6,2.6,1.8,4.2,2.6,5.0,2.8,4.2,2.0,3.4,1.6,2.2,0.4,0.8,-0.7,-2.4],
"37":[0.4,-3.5,1.6,0.2,1.9,0.5,1.4,0.0,1.8,0.6,1.3,0.1,2.0,0.4,1.6,0.2,1.9,1.2,2.8,1.9,3.0,1.4,2.2,0.6,1.7,0.0,1.5,0.5,1.9,0.2,1.4,-0.1,1.8,0.6,1.3,0.3,2.0,0.0,1.6,0.5,1.9,0.1,1.5,0.4,1.7,-0.2,1.4,0.6,2.1,0.2,1.6,0.0,1.8,0.5,1.3,0.3,1.9,-0.1,1.5,0.6,1.7,0.2,1.4,0.5,4.0,0.0,1.9,0.4,1.5,0.1,1.8,0.6,1.3,-0.1,2.0,0.3,1.6,0.5,1.4,0.0,1.9,0.4,1.7,0.1,1.5,0.6,1.2,-0.2,1.8,0.3,1.6,0.5,2.0,0.0,1.4,0.2,1.7,0.6,1.5,-0.1,1.9,0.3,1.3,0.5,1.8,0.1,1.6,0.4,2.1,0.0,1.5,0.6,1.7,0.2,1.4,-0.1,1.9,0.5,1.6,0.3,1.2],
"38":[0.7,1.8,0.1,1.5,0.5,2.0,-0.1,1.4,0.3,1.7,0.6,1.3,0.0,1.9,0.4,1.6,0.2,2.1,-0.2,1.5,0.5,1.8,0.1,1.4,0.6,1.7,0.0,1.2,0.3,1.9,0.4,1.6,-0.1,2.0,0.5,1.5,0.2,1.8,0.6,1.3,0.0,1.7,0.3,1.4,0.1,1.9,0.5,1.6,-0.1,2.0,0.4,1.2,0.6,1.8,0.2,1.5,0.0,1.7,0.3,1.4,0.5,2.1,0.1,1.6,-0.2,1.9,0.4,1.3,0.6,1.7,0.2,1.5,0.0,1.8,0.3,2.0,0.5,1.4,0.1,1.6,-0.1,1.9,0.6,1.3,0.2,1.7,0.4,1.5,0.0,2.0,0.5,1.4,0.3,1.8,-0.1,1.6,0.6,1.2,0.1,1.9,0.4,1.7,0.0,1.5,0.2,2.1,0.5,1.4,0.3,1.8,-0.2,1.6,0.6,1.3,0.1,1.9,0.4,1.7,0.0,1.5,0.9],
"39":[1.4,0.2,1.9,0.5,1.3,0.0,1.7,0.6,1.5,-0.1,2.0,0.3,1.6,0.1,1.8,0.5,1.2,0.4,1.9,-0.2,1.5,0.6,1.7,0.0,1.4,0.2,2.1,0.3,1.6,0.5,1.3,-0.1,1.8,0.4,1.9,0.1,1.5,0.6,1.2,0.0,1.7,0.3,2.0,0.5,1.4,-0.2,1.6,0.2,1.8,0.4,1.3,0.1,1.9,0.6,1.5,0.0,1.7,0.3,2.1,-0.1,1.4,0.5,1.6,0.2,1.8,0.4,1.2,0.0,1.9,0.6,1.5,-0.2,1.7,0.3,2.0,0.1,1.4,0.5,1.6,0.0,1.8,0.4,1.3,0.2,1.9,-0.1,1.5,0.6,1.7,0.3,2.0,0.1,1.4,0.5,1.6,0.0,1.8,0.2,1.2,0.4,1.9,-0.2,1.5,0.6,1.7,0.3,1.4,0.1,2.1,0.5,1.6,0.0,1.8,0.4,1.3,0.2,1.9,-0.1,1.5,0.6,1.0],
"40":[0.8,1.9,-0.2,1.6,0.4,2.1,-0.4,1.7,0.2,1.5,-0.3,2.0,0.6,1.4,-0.1,3.0,0.5,1.8,-0.2,1.4,0.3,2.2,1.4,3.8,2.4,3.0,0.8,1.4,-0.6,0.2,-2.3,-3.4,-4.4,11.0,2.6,9.4,0.6,8.6,1.8,7.0,2.6,-4.6,-7.9,-3.6,-5.4,-2.8,-7.6,-1.8,0.4,1.2,0.6,2.2,1.4,2.8,1.8,3.4,2.4,3.8,2.8,4.2,3.0,4.4,2.6,3.8,3.2,4.6,2.8,3.6,3.0,4.0,1.6,0.8,-1.1,0.4,-0.6,1.4,0.0,1.8,-0.2,1.2,0.6,1.6,-0.4,1.9,0.2,1.4,-0.1,1.7,0.5,1.1,-0.3,1.8,0.3,1.5,0.0,2.0,0.4,1.3,-0.2,1.6,0.6,1.2,-0.1,1.9,0.2,1.5,0.5,1.7,-0.3,1.4,0.1,1.8,0.4,1.3,-0.2,1.6,0.6,2.0,0.0,1.5,0.7],
"41":[0.6,1.7,0.0,1.9,0.4,1.4,0.2,2.0,-0.2,1.6,0.5,1.3,0.1,1.8,0.6,1.5,-0.1,2.1,0.3,1.4,0.4,1.9,0.0,1.6,0.5,1.2,0.2,1.8,-0.1,1.7,0.6,2.0,0.1,1.5,0.3,1.9,-0.2,1.4,0.5,1.6,0.0,1.8,0.4,1.3,0.2,2.0,0.6,1.5,-0.1,1.7,0.3,1.4,0.5,1.9,0.1,1.6,0.0,2.1,0.4,1.3,-0.2,1.8,0.6,1.5,0.2,1.7,0.4,1.2,0.0,1.9,0.5,1.6,-0.1,2.0,0.3,1.4,0.1,1.8,0.6,1.5,0.2,1.9,0.0,1.3,0.4,1.7,-0.2,1.6,0.5,2.0,0.1,1.4,0.6,1.8,0.3,1.5,0.0,1.9,-0.1,1.6,0.4,1.2,0.2,1.7,0.5,2.1,0.0,1.5,0.3,1.8,0.6,1.4,-0.1,1.9,0.2,1.6,0.4,1.3,0.0,1.7,0.8],
"42":[1.2,2.4,0.4,2.0,0.8,2.6,0.2,1.9,1.0,2.3,0.5,2.1,0.7,2.5,0.3,1.8,0.9,2.2,0.1,2.0,0.6,2.4,0.4,1.9,1.0,2.1,0.2,1.7,0.8,2.3,0.5,2.0,0.3,2.2,0.9,1.6,2.0,3.6,2.2,3.4,2.4,3.8,2.6,3.2,0.8,1.6,-0.2,1.4,0.4,1.8,-0.4,1.2,-1.7,2.4,0.6,4.2,-0.2,3.6,0.8,4.4,0.2,3.0,-0.8,2.2,-1.4,2.6,-0.6,1.8,-1.8,-3.0,-4.5,-2.0,-3.6,12.4,3.4,10.0,4.2,9.4,3.6,8.6,4.8,7.2,2.2,-1.6,1.4,-3.8,-0.2,-6.8,3.6,1.6,-2.4,-4.5,-3.2,-1.6,-2.6,0.6,1.8,3.2,2.6,4.2,2.8,3.8,2.6,4.0,3.0,3.6,2.4,4.2,3.2,3.8,2.6,1.2,-0.6,1.4,0.0,1.8,-0.2,1.5,0.3,1.7,0.6],
"43":[1.3,0.1,1.8,0.5,1.6,-0.1,2.0,0.4,1.4,0.2,1.7,0.6,1.2,0.0,1.9,0.3,1.5,0.5,2.1,-0.2,1.6,0.4,1.3,0.1,1.8,0.6,1.5,0.0,1.9,0.2,1.4,-0.1,1.7,0.5,2.0,0.3,1.6,0.1,1.2,0.6,1.8,0.0,1.5,0.4,1.9,-0.2,1.4,0.2,1.7,0.5,2.1,0.1,1.6,0.3,1.3,0.6,1.8,-0.1,1.5,0.4,1.9,0.0,1.4,0.5,1.7,0.2,2.0,0.1,1.6,-0.1,1.3,0.6,1.8,0.3,1.5,0.0,1.9,0.4,1.2,0.2,1.7,0.5,2.1,-0.2,1.6,0.1,1.4,0.6,1.8,0.3,1.5,0.0,1.9,0.4,1.3,0.2,1.7,-0.1,2.0,0.5,1.6,0.1,1.4,0.3,1.8,0.6,1.5,0.0,1.9,0.2,1.3,0.4,1.7,-0.1,2.0,0.5,1.6,0.2,1.4,0.0,1.0],
"44":[0.7,1.9,0.3,1.5,-0.1,1.7,0.5,1.3,0.1,2.0,0.4,1.6,0.0,1.8,0.6,1.4,0.2,1.9,-0.2,1.5,0.5,1.2,0.1,1.7,0.4,2.1,0.0,1.6,0.6,1.4,0.2,1.8,-0.1,1.5,0.3,1.9,0.5,1.3,0.1,1.7,0.6,2.0,0.0,1.4,0.4,1.6,-0.2,1.8,0.2,1.5,0.5,1.9,0.1,1.3,0.3,1.7,0.6,2.1,0.0,1.4,0.4,1.6,-0.1,1.8,0.2,1.5,0.5,1.2,0.1,1.9,0.6,-1.8,0.3,1.7,0.0,1.4,0.4,2.0,0.2,1.6,-0.1,1.8,0.5,1.3,0.1,1.9,0.6,1.5,0.0,1.7,0.3,1.4,0.4,2.0,-0.2,1.6,0.2,1.8,0.5,1.2,0.1,1.9,0.6,1.5,0.0,1.7,0.3,1.4,0.4,2.1,-0.1,1.6,0.2,1.8,0.5,1.3,0.1,1.9,0.6,1.5,0.9],
"45":[1.2,0.4,1.8,0.0,1.5,0.6,1.9,0.1,1.4,-0.1,1.7,0.5,1.3,0.2,2.0,0.3,1.6,-0.2,1.8,0.6,1.4,0.0,1.9,0.4,1.5,0.1,1.7,0.5,2.1,-0.1,1.3,0.6,1.6,0.2,1.8,0.0,1.4,0.3,1.9,0.5,1.5,-0.2,1.7,0.1,2.0,0.4,1.2,0.6,1.6,0.0,1.8,0.3,1.5,0.2,1.9,-0.1,1.4,0.5,1.7,0.1,1.3,0.6,2.0,0.0,1.6,-0.3,0.8,0.2,1.5,0.4,1.9,0.1,1.4,3.8,0.2,1.7,0.6,1.3,0.0,1.8,0.4,1.6,-0.1,2.0,0.3,1.5,0.5,1.2,0.1,1.9,0.6,1.7,0.0,1.4,0.2,1.8,-0.2,1.6,0.4,2.1,0.1,1.5,0.5,1.3,0.3,1.9,0.0,1.7,0.6,1.4,0.2,1.8,-0.1,1.6,0.4,2.0,0.1,1.5,0.5,1.3,1.0],
"46":[0.5,1.6,0.1,1.9,0.4,1.3,-0.1,1.8,0.6,1.5,0.2,2.0,0.3,1.4,0.0,1.7,0.5,1.2,0.1,1.9,0.6,1.6,-0.2,1.8,0.4,1.5,0.2,2.1,0.0,1.3,0.5,1.7,0.1,1.4,0.6,1.9,0.3,1.6,-0.1,1.8,0.4,1.2,0.0,2.0,0.5,1.5,0.2,1.7,0.6,1.4,0.1,1.9,-0.1,1.6,0.3,1.8,0.5,1.3,0.0,2.1,0.4,1.5,0.2,1.7,0.6,1.4,-0.2,1.9,0.1,1.6,0.5,1.2,0.3,1.8,0.0,2.0,0.4,1.5,0.6,1.7,0.1,1.4,-0.1,1.9,0.5,1.6,0.2,1.3,0.3,1.8,0.6,2.0,0.0,1.5,0.4,1.7,0.1,1.4,-0.2,1.9,0.5,1.6,0.3,1.2,0.0,1.8,0.6,2.1,0.2,1.5,0.4,1.7,-0.1,1.4,0.1,1.9,0.5,1.6,0.3,1.3,0.8],
"47":[1.1,0.2,1.7,0.5,1.4,-0.1,1.9,0.3,1.6,0.0,1.8,0.6,1.3,0.1,2.0,0.4,1.5,-0.2,1.7,0.5,1.2,0.0,1.9,0.3,1.6,0.6,1.4,0.1,2.1,-0.1,1.5,0.4,1.8,0.2,1.3,0.5,1.7,0.0,1.9,0.3,1.4,-0.2,1.6,0.6,2.0,0.1,1.5,0.4,1.2,0.0,1.8,0.5,1.7,0.2,1.4,-0.1,1.9,0.3,1.6,0.6,1.3,0.1,2.0,0.4,1.5,0.0,1.8,0.2,1.4,0.5,1.7,-0.1,1.6,0.3,0.4,-1.4,-0.6,-2.4,2.8,7.2,3.6,6.8,3.2,8.4,4.0,6.4,3.0,5.8,2.4,0.6,-2.0,0.4,-3.0,-0.6,-2.6,0.8,-1.8,1.0,-1.2,0.2,1.6,3.0,2.4,4.6,3.8,5.0,2.6,3.4,2.0,3.6,2.2,3.4,1.8,2.8,1.2,0.4,1.5,-0.2,1.4,0.6,0.5],
"48":[0.6,1.9,0.2,1.6,0.5,2.0,-0.2,2.6,0.4,1.4,0.0,1.8,0.6,1.3,-0.1,2.1,0.4,1.5,-1.2,0.2,-1.0,2.6,1.2,5.6,0.8,6.9,1.6,5.2,2.4,6.0,1.8,4.4,-0.6,0.8,-1.0,-1.8,1.2,-0.8,3.4,0.2,2.8,-0.4,3.2,0.6,2.4,-0.6,2.0,0.0,1.7,0.3,1.9,0.1,1.5,-0.2,1.8,0.5,1.3,0.0,2.0,0.4,1.6,-0.1,1.9,0.3,1.4,0.6,1.7,0.1,2.1,0.2,1.5,0.4,1.2,-0.2,1.8,0.5,1.6,0.0,1.9,0.3,1.3,0.6,2.0,0.1,1.5,-0.1,1.7,0.4,1.4,0.2,1.8,0.0,1.6,0.5,2.1,-0.2,1.3,0.3,1.9,0.1,1.5,0.6,1.7,0.0,1.4,0.4,2.0,0.2,1.6,-0.1,1.8,0.5,1.3,0.1,1.9,0.3,1.5,0.0,1.7,0.4,1.0],
"49":[1.4,2.6,1.0,2.4,1.6,3.0,0.8,2.5,1.2,2.8,0.9,2.3,1.5,2.9,0.7,2.6,1.3,2.2,1.0,2.7,1.2,-1.8,0.6,4.6,2.0,6.4,3.2,7.8,3.6,6.6,2.8,5.2,1.4,0.2,-0.6,-1.4,0.4,-2.4,-0.2,1.2,0.0,1.4,-0.4,1.2,2.8,2.0,3.6,2.6,3.4,2.4,2.8,1.6,2.6,1.4,3.0,1.8,2.4,1.2,2.7,1.5,2.2,0.9,2.6,1.1,2.3,0.7,2.8,1.3,2.1,0.6,2.5,1.0,2.9,0.8,2.2,1.4,2.6,0.5,2.4,1.2,2.0,0.7,2.7,1.1,2.3,0.9,2.8,0.6,2.1,1.3,2.5,0.8,2.2,1.0,2.9,0.6,2.4,1.2,2.0,0.9,2.6,1.1,2.3,0.7,2.8,1.0,2.1,0.8,2.5,1.3,2.2,0.6,2.7,1.0,2.4,0.9,2.0,1.2,2.6,0.8,1.6],
"50":[1.2,0.2,1.8,0.5,1.4,-0.1,1.9,0.4,1.6,0.0,1.7,0.6,1.3,0.1,2.0,0.3,1.5,-0.2,1.8,0.5,1.2,0.0,1.9,0.4,1.6,0.2,1.4,0.6,2.1,-0.1,1.5,0.3,1.7,0.1,1.3,0.5,1.9,0.0,1.6,0.4,1.8,-0.2,1.4,0.6,2.0,0.2,1.5,0.1,1.7,0.5,1.3,0.0,1.9,0.3,1.6,-0.1,1.8,0.6,1.4,0.2,2.0,0.4,1.5,0.0,1.7,0.5,1.2,0.1,1.9,-0.2,1.6,0.3,1.8,0.6,1.4,0.0,2.1,0.2,1.5,0.4,1.7,-0.1,1.3,0.5,1.9,0.1,1.6,0.3,1.4,0.6,1.8,0.0,1.5,0.2,1.2,-0.4,0.9,-0.6,0.8,-1.0,0.4,-1.6,-0.4,-2.3,0.2,1.6,2.8,4.6,3.4,6.8,3.0,4.4,2.6,3.8,1.2,0.4,-1.4,-2.3,-3.6,-4.5,-3.0],
"51":[-0.5,1.2,-0.2,1.6,0.4,1.9,0.1,1.5,0.6,1.3,0.0,1.8,0.4,1.4,0.2,2.0,-0.1,1.6,0.5,1.2,0.1,1.9,0.6,1.5,-0.2,1.7,0.3,2.1,0.4,1.3,0.0,1.8,0.5,1.6,0.2,1.4,-0.1,1.9,0.6,1.5,0.3,2.0,0.1,1.3,0.5,1.7,-0.2,1.6,0.4,1.9,0.0,1.5,0.6,1.2,0.2,1.8,-0.1,1.6,0.3,2.0,0.5,1.4,0.1,1.7,0.6,1.3,-0.2,1.9,0.4,1.5,0.0,1.8,0.3,1.6,0.5,2.1,0.1,1.4,0.6,1.7,-0.1,1.5,0.4,1.9,0.2,1.3,0.6,1.8,0.0,1.6,0.3,2.0,0.5,1.4,-0.2,1.7,0.1,1.5,0.6,1.9,0.4,7.9,-4.6,6.2,-5.0,7.4,-3.8,5.6,-2.4,4.2,-1.2,2.6,-0.8,1.4,-2.2,-1.0,-4.2,-6.2,6.0,16.4,1.0],
"52":[12.0,-1.1,17.0,2.6,14.2,-0.8,11.0,1.6,8.4,-7.9,-4.6,-9.6,-5.2,-2.0,1.7,-1.1,-5.6,-2.4,0.6,-0.8,2.6,1.2,4.0,3.0,5.6,6.8,4.2,2.0,3.6,1.8,3.4,2.2,3.8,1.8,0.2,-1.7,-0.4,-2.2,-0.6,-1.8,-0.8,-1.4,0.6,1.8,2.8,1.4,2.6,0.6,1.8,0.2,1.6,0.0,1.9,0.4,1.5,-0.2,1.8,0.5,1.3,0.1,1.7,0.4,2.6,1.2,2.8,1.0,2.5,1.3,2.9,0.6,1.5,0.2,1.9,2.8,1.6,0.4,1.7,-0.1,1.4,0.6,2.0,0.3,1.8,0.8,2.4,0.5,1.9,0.7,2.6,0.4,1.7,0.9,2.3,0.2,1.9,0.6,2.5,0.8,1.6,0.3,2.2,0.7,1.8,0.4,2.6,0.9,1.5,0.2,2.1,0.6,1.9,0.3,2.4,0.8,1.7,0.5,2.3,0.6,1.8,0.4,1.3],
"53":[0.9,1.9,0.3,1.5,0.0,1.7,0.6,1.3,0.2,2.0,0.4,1.6,-0.1,1.8,0.5,1.4,0.1,1.9,0.6,1.2,0.0,1.7,0.3,2.1,0.5,1.5,-0.2,1.8,0.4,1.6,0.1,1.3,0.6,1.9,0.2,1.5,0.0,2.0,0.4,1.4,0.5,1.8,-0.1,1.6,0.3,1.2,0.6,1.9,0.1,1.7,0.4,2.1,0.0,1.5,0.2,1.8,0.5,1.4,-0.1,1.6,0.6,1.3,0.3,1.9,0.1,1.7,0.4,2.0,0.0,1.5,0.5,1.8,0.2,1.4,-0.2,1.6,0.6,1.2,0.3,1.9,0.1,1.7,0.4,2.1,0.0,1.5,0.5,1.8,0.2,1.3,-0.1,1.6,0.6,1.9,0.3,1.4,0.1,1.7,0.4,2.0,0.0,1.5,0.5,1.3,0.2,1.8,-0.1,1.6,0.6,1.9,0.3,1.4,0.1,1.7,0.4,2.0,0.0,1.5,0.5,1.8,0.9],
"54":[1.3,0.3,1.7,0.0,1.9,0.5,1.4,0.1,1.6,-0.1,2.0,0.4,1.5,0.2,1.8,0.6,1.2,0.0,1.9,0.3,1.6,-0.2,1.4,0.5,2.1,0.1,1.7,0.4,1.5,0.0,1.8,0.6,1.3,0.2,1.9,-0.1,1.6,0.3,2.0,0.5,1.4,0.1,1.7,0.0,1.5,0.4,1.9,0.6,1.2,-0.2,1.8,0.3,1.6,0.1,2.0,0.5,1.4,0.0,1.7,0.2,1.5,0.6,1.9,-0.1,1.3,0.4,1.8,0.1,1.6,0.5,2.1,0.0,1.4,0.3,1.7,0.2,1.5,-0.2,1.9,0.6,1.6,0.1,1.2,0.4,1.8,0.0,2.0,0.5,1.4,0.3,1.7,-0.1,1.5,0.2,1.9,0.6,1.3,0.1,1.6,0.4,1.8,0.0,1.4,0.5,2.1,0.2,1.7,-0.1,1.5,0.3,1.9,0.6,1.3,0.1,1.6,0.4,2.0,0.0,1.4,0.5,1.1],
"55":[0.6,1.6,0.2,1.9,0.4,1.3,-0.1,1.7,0.5,2.0,0.1,1.5,0.6,1.8,0.0,1.4,0.3,1.9,0.5,1.2,-0.2,1.7,0.4,1.6,0.1,2.1,0.6,1.5,0.2,1.8,0.0,1.3,0.5,1.9,0.3,1.6,-0.1,1.4,0.4,2.0,0.6,1.7,0.1,1.5,0.2,1.8,0.0,1.3,0.5,1.9,0.3,1.6,-0.2,2.0,0.4,1.4,0.1,1.7,0.6,1.5,0.0,1.9,0.2,1.3,0.5,1.8,0.3,1.6,-0.1,2.1,0.4,1.5,0.6,1.7,0.1,1.2,0.0,1.9,0.3,1.6,0.5,1.4,-0.1,1.8,0.2,2.0,0.6,1.5,0.1,1.7,0.4,1.3,0.0,1.9,0.5,1.6,0.2,1.4,-0.2,1.8,0.3,2.0,0.6,1.5,0.1,1.7,0.4,1.3,0.0,1.9,0.5,1.6,0.2,1.4,-0.1,1.8,0.6,2.0,0.3,1.5,0.9],
"56":[1.0,2.1,0.4,1.8,0.7,2.2,0.2,1.6,0.9,2.0,0.3,1.9,0.6,2.3,0.1,1.7,0.8,2.0,0.4,1.5,0.9,2.2,0.2,1.8,-0.6,3.6,0.4,4.4,-0.4,3.2,0.8,4.0,-0.2,2.2,0.6,1.6,-0.4,1.2,-0.2,0.6,-0.6,-1.2,1.8,-0.4,7.8,2.6,6.8,3.4,7.4,1.8,6.2,1.0,-4.6,-1.0,-3.6,0.2,-7.5,-1.2,-4.8,-0.8,-1.6,-0.2,-1.4,0.2,0.8,2.2,1.6,3.2,2.6,4.4,3.2,2.0,3.6,2.4,1.8,0.6,1.9,0.4,1.6,0.2,1.4,0.6,1.8,-0.4,0.8,-0.6,0.5,-0.1,1.2,1.9,2.8,1.4,3.0,1.6,2.6,1.2,2.4,0.6,1.8,0.4,1.6,0.2,1.9,0.5,1.4,-0.1,1.7,0.6,2.0,0.3,1.5,0.1,1.8,0.4,1.3,0.6,2.1,0.0,1.6,0.5,1.0],
"57":[1.1,0.1,1.8,0.5,1.4,0.0,2.0,0.3,1.6,-0.1,1.7,0.6,1.3,0.2,1.9,0.4,1.5,-0.2,1.8,0.5,1.2,0.1,2.1,0.3,1.6,0.6,1.4,0.0,1.9,0.2,1.5,-0.1,1.7,0.5,1.3,0.4,2.0,0.1,1.6,0.6,1.8,0.0,1.4,0.3,1.9,-0.2,1.5,0.5,1.7,0.2,1.2,0.4,2.0,0.1,1.6,0.6,1.8,-0.1,1.4,0.3,1.9,0.0,1.5,0.5,1.7,0.2,2.1,0.4,1.3,-0.2,1.6,0.6,1.8,0.1,1.4,0.3,1.9,0.0,1.5,0.5,1.7,-0.1,1.2,0.4,2.0,0.2,1.6,0.6,1.8,0.0,1.4,0.3,1.9,0.1,1.5,-0.2,1.7,0.5,1.3,0.4,2.1,0.0,1.6,0.6,1.8,0.2,1.4,-0.1,1.9,0.3,1.5,0.5,1.7,0.1,1.2,0.4,2.0,0.0,1.6,0.6,1.0],
"58":[0.5,1.9,0.2,1.6,-0.1,1.4,0.6,2.0,0.1,1.7,0.4,1.3,0.0,1.8,0.5,1.5,0.2,2.1,-0.2,1.6,0.6,1.4,0.1,1.9,0.3,1.7,0.0,1.2,0.5,1.8,0.2,2.0,-0.1,1.5,0.4,1.6,0.6,1.3,0.1,1.9,0.3,1.7,0.0,1.4,0.5,2.0,0.2,1.6,-0.1,1.8,0.6,1.3,0.4,1.9,0.1,1.5,0.0,1.7,0.3,2.1,0.5,1.4,-0.2,1.8,0.2,1.6,0.6,1.2,0.0,1.9,0.4,1.5,0.1,2.0,0.3,1.7,-0.1,1.4,0.5,1.8,0.2,1.6,0.6,1.3,0.0,1.9,0.4,1.5,0.1,2.1,-0.2,1.7,0.3,1.4,0.5,1.8,0.2,1.6,0.0,1.3,0.6,1.9,0.1,1.5,0.4,2.0,-0.1,1.7,0.3,1.4,0.5,1.8,0.0,1.6,0.2,1.3,0.6,1.9,0.1,1.5,0.8],
"59":[1.2,0.3,1.6,0.0,1.9,0.5,1.4,0.1,1.8,-0.1,1.5,0.4,2.0,0.2,1.7,0.6,1.3,0.0,1.9,0.3,1.6,-0.2,1.4,0.5,1.8,0.1,2.1,0.4,1.5,0.0,1.7,0.6,1.2,0.2,1.9,-0.1,1.6,0.3,1.4,0.5,2.0,0.0,1.5,0.4,1.8,0.1,1.3,0.6,1.7,-0.2,1.9,0.2,1.6,0.5,1.4,0.0,2.0,0.3,1.5,0.1,1.8,0.6,1.3,-0.1,1.7,0.4,1.9,0.2,1.6,0.0,1.4,0.5,2.1,0.1,1.5,0.3,1.8,-0.2,1.6,0.6,1.2,0.0,1.9,0.4,1.7,0.2,1.5,0.5,2.0,-0.1,1.6,0.3,1.4,0.1,1.8,0.6,1.3,0.0,1.9,0.4,1.5,0.2,1.7,-0.1,2.0,0.5,1.4,0.3,1.6,0.0,1.8,0.6,1.3,0.1,1.9,0.4,1.5,0.2,1.7,0.5,1.0]
}],
"scalebar":[
{"seg":"bar","row":"00","t":60.88,"a":17.5},{"seg":"bar","row":"00","t":60.88,"a":37.5},
{"seg":"lo","row":"00","t":60.45,"a":17.5},{"seg":"lo","row":"00","t":61.3,"a":17.5},
{"seg":"hi","row":"00","t":60.45,"a":37.5},{"seg":"hi","row":"00","t":61.3,"a":37.5}
]
},
"layer":[
{
"data":{"name":"helicorder"},
"transform":[
{"flatten":["t","00","01","02","03","04","05","06","07","08","09","10","11","12","13","14","15","16","17","18","19","20","21","22","23","24","25","26","27","28","29","30","31","32","33","34","35","36","37","38","39","40","41","42","43","44","45","46","47","48","49","50","51","52","53","54","55","56","57","58","59"]},
{"fold":["00","01","02","03","04","05","06","07","08","09","10","11","12","13","14","15","16","17","18","19","20","21","22","23","24","25","26","27","28","29","30","31","32","33","34","35","36","37","38","39","40","41","42","43","44","45","46","47","48","49","50","51","52","53","54","55","56","57","58","59"],"as":["row","v"]}
],
"mark":{"type":"line","stroke":"#1e1e1e","strokeWidth":1.4,"clip":false},
"encoding":{
"x":{"field":"t","type":"quantitative","scale":{"domain":[0,60],"nice":false,"zero":false},
"axis":{"orient":"bottom","values":[0,1,2,3,4,5,6,7,8,9,10,11,12,13,14,15,16,17,18,19,20,21,22,23,24,25,26,27,28,29,30,31,32,33,34,35,36,37,38,39,40,41,42,43,44,45,46,47,48,49,50,51,52,53,54,55,56,57,58,59],
"labelExpr":"datum.value % 10 === 0 ? datum.label : ''","format":"d",
"tickSize":{"condition":{"test":"datum.value % 10 === 0","value":-30},"value":-15},
"tickWidth":2,"tickColor":"black","domainColor":"black","domainWidth":2.5,"grid":false,
"labelFont":"Liberation Sans","labelFontSize":27,"labelColor":"black","labelPadding":34,"labelBaseline":"top","labelFlush":false,"labelOverlap":false,
"title":"1 min","titleFont":"Liberation Sans","titleFontSize":40,"titleFontWeight":"normal","titleColor":"black","titleX":2163,"titleY":33,"titleAlign":"left","titleBaseline":"alphabetic","titleAngle":0}},
"y":{"field":"row","type":"ordinal","scale":{"type":"point","padding":1,"domain":["00","01","02","03","04","05","06","07","08","09","10","11","12","13","14","15","16","17","18","19","20","21","22","23","24","25","26","27","28","29","30","31","32","33","34","35","36","37","38","39","40","41","42","43","44","45","46","47","48","49","50","51","52","53","54","55","56","57","58","59"]},
"axis":{"orient":"left","tickSize":15,"tickWidth":2,"tickColor":"black","domainColor":"black","domainWidth":2.5,"grid":false,
"labelFont":"Liberation Sans","labelFontSize":26,"labelColor":"black","labelPadding":4,"labelOverlap":false,
"title":"20 um/s","titleFont":"Liberation Sans","titleFontSize":28,"titleFontWeight":"normal","titleColor":"black","titleAngle":0,"titleX":2177,"titleY":-29,"titleAlign":"left","titleBaseline":"middle"}},
"yOffset":{"field":"v","type":"quantitative","scale":{"domain":[-17.5,17.5],"range":[51.64,-51.64],"zero":false,"nice":false}},
"detail":{"field":"row","type":"nominal"},
"order":{"field":"t","type":"quantitative"}
}
},
{
"data":{"name":"scalebar"},
"mark":{"type":"line","stroke":"black","strokeWidth":2,"clip":false},
"encoding":{
"x":{"field":"t","type":"quantitative","scale":{"domain":[0,60],"nice":false,"zero":false},
"axis":{"orient":"top","values":[0,1,2,3,4,5,6,7,8,9,10,11,12,13,14,15,16,17,18,19,20,21,22,23,24,25,26,27,28,29,30,31,32,33,34,35,36,37,38,39,40,41,42,43,44,45,46,47,48,49,50,51,52,53,54,55,56,57,58,59],
"labels":false,"tickSize":{"condition":{"test":"datum.value % 10 === 0","value":-30},"value":-15},
"tickWidth":2,"tickColor":"black","domainColor":"black","domainWidth":2.5,"grid":false,
"title":"19/04/04 21h","titleFont":"Liberation Sans","titleFontSize":54,"titleFontWeight":"normal","titleColor":"black","titleX":2,"titleY":-15,"titleAlign":"left","titleBaseline":"alphabetic","titleAngle":0}},
"y":{"field":"row","type":"ordinal","scale":{"type":"point","padding":1,"domain":["00","01","02","03","04","05","06","07","08","09","10","11","12","13","14","15","16","17","18","19","20","21","22","23","24","25","26","27","28","29","30","31","32","33","34","35","36","37","38","39","40","41","42","43","44","45","46","47","48","49","50","51","52","53","54","55","56","57","58","59"]},
"axis":{"orient":"right","labels":false,"tickSize":15,"tickWidth":2,"tickColor":"black","domainColor":"black","domainWidth":2.5,"grid":false,
"title":"Raw","titleFont":"Liberation Sans","titleFontSize":54,"titleFontWeight":"normal","titleColor":"black","titleAngle":0,"titleX":0,"titleY":-15,"titleAlign":"right","titleBaseline":"alphabetic"}},
"yOffset":{"field":"a","type":"quantitative","scale":{"domain":[-17.5,17.5],"range":[51.64,-51.64],"zero":false,"nice":false}},
"detail":{"field":"seg","type":"nominal"},
"order":{"field":"t","type":"quantitative"}
}
}
],
"resolve":{"scale":{"x":"independent","y":"independent"}}
}
